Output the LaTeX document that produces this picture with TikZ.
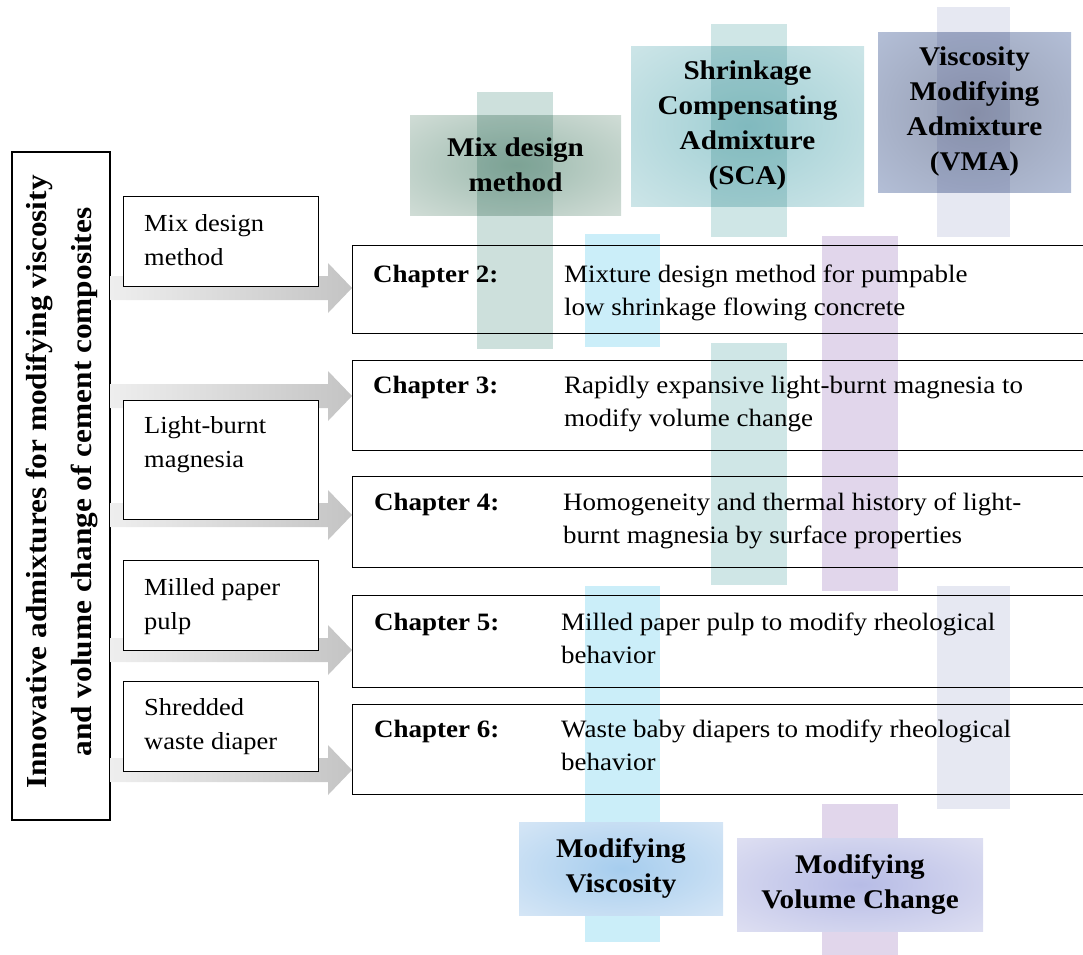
\documentclass[tikz,border=0pt]{standalone}
\usepackage{fontspec}
\setmainfont{Liberation Serif}[FakeStretch=1.08]
\usetikzlibrary{calc}
\definecolor{barMix}{HTML}{CDE0DC}
\definecolor{barSCA}{HTML}{CFE6E6}
\definecolor{barVMA}{HTML}{E6E8F2}
\definecolor{barBlue}{HTML}{CBEEF9}
\definecolor{barPurple}{HTML}{E1D6EB}
\definecolor{mixIn}{HTML}{9BB9AD}
\definecolor{mixOut}{HTML}{E0E7E2}
\definecolor{scaIn}{HTML}{9FCED3}
\definecolor{scaOut}{HTML}{DAECEE}
\definecolor{vmaIn}{HTML}{959DB2}
\definecolor{vmaOut}{HTML}{BCC8E1}
\definecolor{visIn}{HTML}{A6CDEE}
\definecolor{visOut}{HTML}{E3EDF8}
\definecolor{volIn}{HTML}{B7BCE6}
\definecolor{volOut}{HTML}{E9E9F5}
\definecolor{arrL}{HTML}{EEEEEE}
\definecolor{arrR}{HTML}{C4C4C4}
\colorlet{hin}{black}
\colorlet{hout}{white}
\pgfdeclareradialshading[hin,hout]{hdr}{\pgfpoint{0bp}{0bp}}{color(0bp)=(hin); color(46bp)=(hout); color(72bp)=(hout)}
\tikzset{
  hshade/.style 2 args={/utils/exec={\colorlet{hin}{#1}\colorlet{hout}{#2}}, shading=hdr},
  hdr/.style={font=\bfseries\fontsize{27}{35}\selectfont, align=center, inner sep=0pt},
  glass/.style={blend mode=multiply},
  smallbox/.style={draw, line width=1.4pt, fill=white, minimum width=195pt, anchor=north west, inner sep=0pt},
  chapbox/.style={draw, line width=1.4pt, minimum width=760pt, anchor=north west, inner sep=0pt},
  boxtxt/.style={font=\fontsize{24.5}{34}\selectfont, align=left, inner sep=0pt, anchor=north west},
  desc/.style={font=\fontsize{25}{33}\selectfont, align=left, inner sep=0pt, anchor=north west},
  chap/.style={font=\bfseries\fontsize{25}{33}\selectfont, inner sep=0pt, anchor=base west},
  arr/.style={left color=arrL, right color=arrR, draw=none},
}
\begin{document}
\begin{tikzpicture}[x=1pt,y=-1pt]
\useasboundingbox (0,0) rectangle (1083,954);
\clip (0,0) rectangle (1083,954);
% vertical bars
\fill[barMix] (477,92) rectangle (553,349);
\fill[barSCA] (711,24) rectangle (787,237);
\fill[barSCA] (711,343) rectangle (787,585);
\fill[barVMA] (937,7) rectangle (1010,237);
\fill[barVMA] (937,586) rectangle (1010,809);
\fill[barBlue] (585,234) rectangle (660,347);
\fill[barBlue] (585,586) rectangle (660,942);
\fill[barPurple] (822,236) rectangle (898,591);
\fill[barPurple] (822,804) rectangle (898,960);
% left box
\node[draw, line width=1.4pt, minimum width=98pt, minimum height=668pt, inner sep=0pt] (L) at (61,486) {};
\node[rotate=90, font=\bfseries\fontsize{29}{45}\selectfont, align=center, inner sep=0pt] (Lt) at (62,482)
  {Innovative admixtures for modifying viscosity\\and volume change of cement composites};
% chapter boxes
\node[chapbox, minimum height=88pt] (c2) at (352,245) {};
\node[chapbox, minimum height=90pt] (c3) at (352,360) {};
\node[chapbox, minimum height=91pt] (c4) at (352,476) {};
\node[chapbox, minimum height=92pt] (c5) at (352,595) {};
\node[chapbox, minimum height=90pt] (c6) at (352,704) {};
% arrows
\foreach \yy/\cc [count=\i] in {288/c2, 396/c3, 515/c4, 650/c5, 770/c6}{
  \coordinate (s\i) at (L.east |- 0,\yy);
  \coordinate (e\i) at (\cc.west |- s\i);
  \shade[arr] ($(s\i)+(0,-12)$) -- ($(e\i)+(-24,-12)$) -- ($(e\i)+(-24,-25)$) -- (e\i)
     -- ($(e\i)+(-24,25)$) -- ($(e\i)+(-24,12)$) -- ($(s\i)+(0,12)$) -- cycle;
}
% small boxes
\node[smallbox, minimum height=90pt] (m1) at (123,196) {};
\node[smallbox, minimum height=119pt] (m2) at (123,400) {};
\node[smallbox, minimum height=90pt] (m3) at (123,560) {};
\node[smallbox, minimum height=90pt] (m4) at (123,681) {};
\node[boxtxt] (m1t) at ($(m1.north west)+(21,18)$) {Mix design\\method};
\node[boxtxt] (m2t) at ($(m2.north west)+(21,16)$) {Light-burnt\\magnesia};
\node[boxtxt] (m3t) at ($(m3.north west)+(21,18)$) {Milled paper\\pulp};
\node[boxtxt] (m4t) at ($(m4.north west)+(21,17)$) {Shredded\\waste diaper};
% chapter texts
\node[chap] (c2l) at (373,282) {Chapter 2:};
\node[chap] (c3l) at (373,393) {Chapter 3:};
\node[chap] (c4l) at (374,510) {Chapter 4:};
\node[chap] (c5l) at (374,630) {Chapter 5:};
\node[chap] (c6l) at (374,737) {Chapter 6:};
\node[desc] (c2d) at (564,265) {Mixture design method for pumpable\\low shrinkage flowing concrete};
\node[desc] (c3d) at (564,376) {Rapidly expansive light-burnt magnesia to\\modify volume change};
\node[desc] (c4d) at (563,493) {Homogeneity and thermal history of light-\\burnt magnesia by surface properties};
\node[desc] (c5d) at (561,613) {Milled paper pulp to modify rheological\\behavior};
\node[desc] (c6d) at (561,720) {Waste baby diapers to modify rheological\\behavior};
% header boxes
\begin{scope}[glass]
\node[hdr, hshade={mixIn}{mixOut}, minimum width=211pt, minimum height=100pt] (hmix) at (515.5,165) {Mix design\\method};
\node[hdr, hshade={scaIn}{scaOut}, minimum width=233pt, minimum height=160pt] (hsca) at (747.5,126) {Shrinkage\\Compensating\\Admixture\\(SCA)};
\node[hdr, hshade={vmaIn}{vmaOut}, minimum width=193pt, minimum height=160pt] (hvma) at (974.5,112) {Viscosity\\Modifying\\Admixture\\(VMA)};
\end{scope}
\node[hdr, hshade={visIn}{visOut}, minimum width=204pt, minimum height=93pt] (hvis) at (621,868.5) {Modifying\\Viscosity};
\node[hdr, hshade={volIn}{volOut}, minimum width=246pt, minimum height=93pt] (hvol) at (860,884.5) {Modifying\\Volume Change};
\end{tikzpicture}
\end{document}
